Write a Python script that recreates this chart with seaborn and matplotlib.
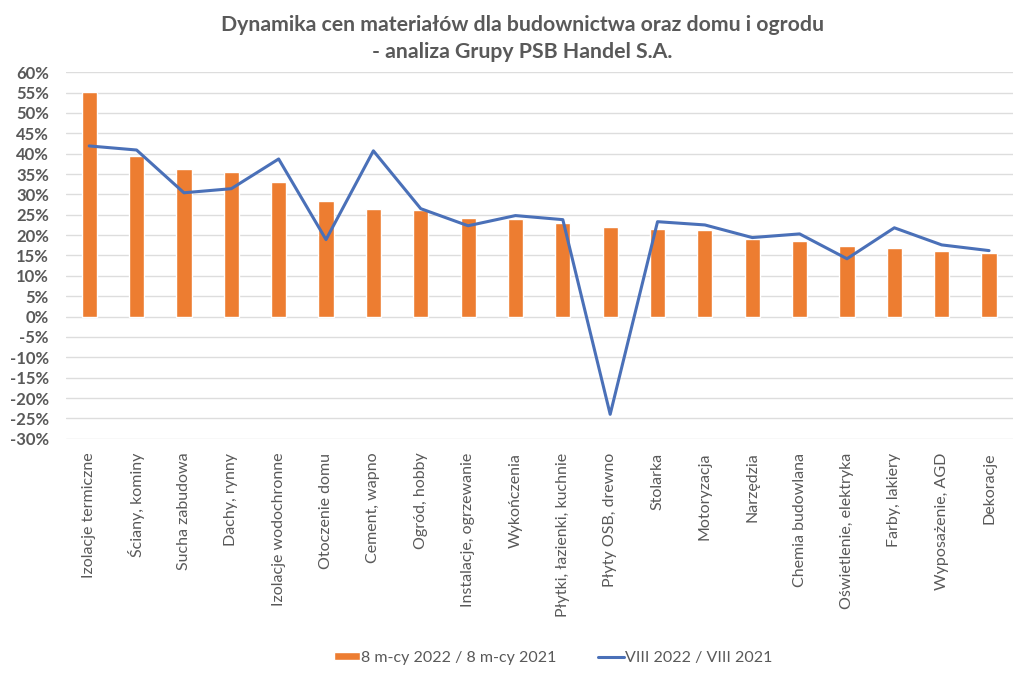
import seaborn as sns
import matplotlib.pyplot as plt
import numpy as np
import pandas as pd
from matplotlib.ticker import MultipleLocator, FuncFormatter

kategorie = ['Izolacje termiczne', 'Ściany, kominy', 'Sucha zabudowa', 'Dachy, rynny',
             'Izolacje wodochronne', 'Otoczenie domu', 'Cement, wapno', 'Ogród, hobby',
             'Instalacje, ogrzewanie', 'Wykończenia', 'Płytki, łazienki, kuchnie',
             'Płyty OSB, drewno', 'Stolarka', 'Motoryzacja', 'Narzędzia', 'Chemia budowlana',
             'Oświetlenie, elektryka', 'Farby, lakiery', 'Wyposażenie, AGD', 'Dekoracje']
osiem_mcy = [55.1, 39.5, 36.3, 35.5, 33.0, 28.4, 26.5, 26.2, 24.3, 24.0,
             23.0, 22.0, 21.5, 21.3, 19.1, 18.6, 17.4, 16.9, 16.2, 15.7]
sierpien = [41.9, 40.9, 30.4, 31.4, 38.7, 18.9, 40.7, 26.5, 22.3, 24.8,
            23.8, -24.0, 23.3, 22.5, 19.4, 20.3, 14.2, 21.8, 17.6, 16.2]

df = pd.DataFrame({'kategoria': kategorie, 'osiem': osiem_mcy, 'viii': sierpien})

sns.set_theme(style='white')
plt.rcParams['font.family'] = ['Lato', 'DejaVu Sans']

szary = '#595959'
fig = plt.figure(figsize=(10.24, 6.75), dpi=100)
ax = fig.add_axes([0.064, 0.350, 0.925, 0.543])

sns.barplot(data=df, x='kategoria', y='osiem', color='#ED7D31', width=0.32,
            saturation=1, ax=ax, label='8 m-cy 2022 / 8 m-cy 2021', zorder=2)
sns.lineplot(data=df, x='kategoria', y='viii', sort=False, color='#4A70B8',
             linewidth=2.2, ax=ax, label='VIII 2022 / VIII 2021', zorder=3)

ax.set_ylim(-30, 60)
ax.set_xlim(-0.5, len(kategorie) - 0.5)
ax.yaxis.set_major_locator(MultipleLocator(5))
ax.yaxis.set_major_formatter(FuncFormatter(lambda v, p: f'{v:.0f}%'))
ax.grid(axis='y', color='#dddddd', linewidth=1, zorder=0)
ax.set_axisbelow(True)
for s in ax.spines.values():
    s.set_visible(False)
ax.set_xlabel('')
ax.set_ylabel('')
ax.tick_params(axis='y', labelsize=12, colors=szary, pad=12, length=0)
ax.tick_params(axis='x', labelsize=11.5, colors=szary, pad=10, length=0)
for t in ax.get_yticklabels():
    t.set_fontweight('bold')
ax.set_xticks(range(len(kategorie)))
ax.set_xticklabels(kategorie, rotation=90, va='top', ha='center')

fig.text(0.51, 0.963, 'Dynamika cen materiałów dla budownictwa oraz domu i ogrodu',
         ha='center', va='center', fontsize=15.3, fontweight='bold', color=szary)
fig.text(0.51, 0.923, '- analiza Grupy PSB Handel S.A.',
         ha='center', va='center', fontsize=15.3, fontweight='bold', color=szary)

uchwyty, etykiety = ax.get_legend_handles_labels()
kolej = [etykiety.index('8 m-cy 2022 / 8 m-cy 2021'), etykiety.index('VIII 2022 / VIII 2021')]
ax.legend([uchwyty[i] for i in kolej], [etykiety[i] for i in kolej],
          loc='center', bbox_to_anchor=(0.515, -0.597), ncol=2, frameon=False,
          fontsize=11.5, handlelength=1.6, handleheight=0.45, handletextpad=0.1,
          columnspacing=2.6, labelcolor=szary)

fig.savefig('out.png', dpi=100)
